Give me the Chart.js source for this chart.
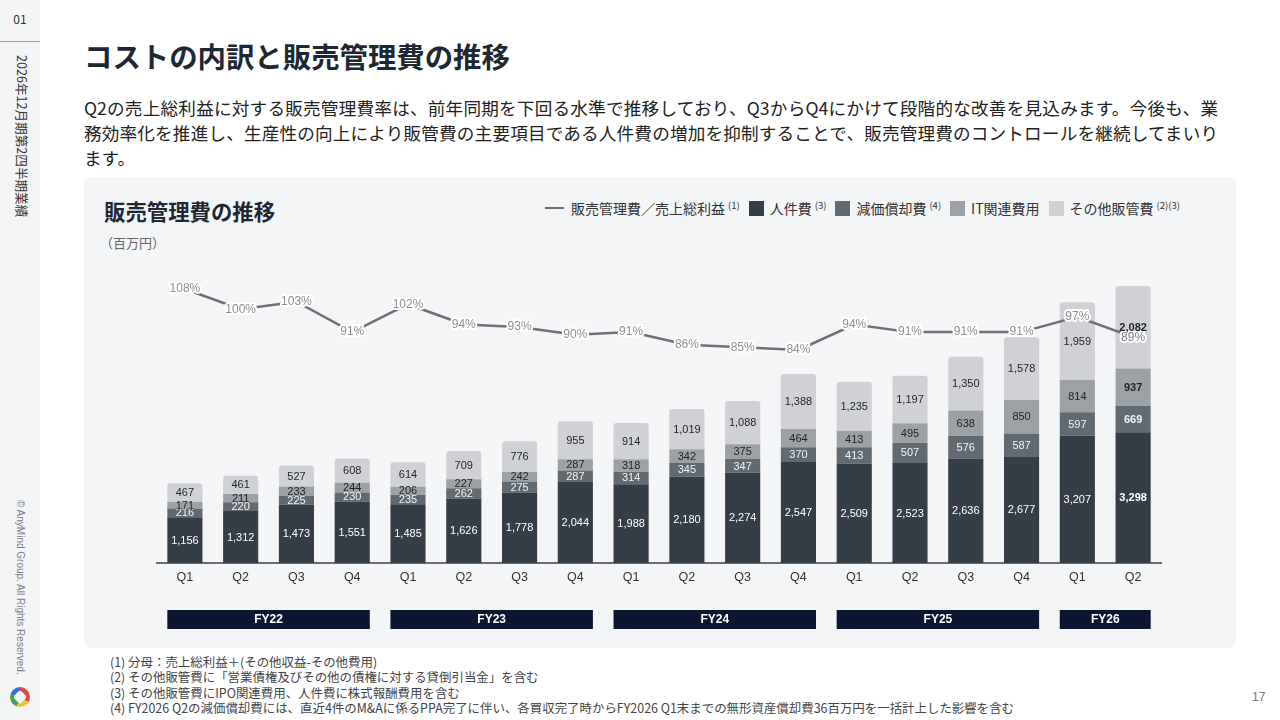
<!DOCTYPE html>
<html lang="ja">
<head>
<meta charset="utf-8">
<script src="https://cdn.jsdelivr.net/npm/chart.js@4.4.1/dist/chart.umd.min.js"></script>
<style>
  body { margin: 0; width: 1280px; height: 720px; overflow: hidden; background: #fff; position: relative;
         font-family: "Noto Sans CJK JP", "Noto Sans", sans-serif; color: #222; }
  #side { position: absolute; left: 0; top: 0; width: 40px; height: 720px; background: #f3f4f6; }
  #side .num { position: absolute; top: 10px; width: 40px; text-align: center; font-size: 12px; color: #333; }
  #side .rule { position: absolute; top: 41px; left: 0; width: 40px; border-top: 1px solid #9a9ea3; }
  #side .vt { position: absolute; writing-mode: vertical-rl; text-orientation: sideways; white-space: nowrap; }
  #side .period { top: 55px; left: 13px; font-size: 12.6px; color: #333; }
  #side .copy { top: 500px; font-family: "Liberation Sans", Arial, sans-serif; font-size: 10px; color: #7a7d82; left: 15px; }
  #logo { position: absolute; left: 10px; top: 687px; width: 20px; height: 20px; border-radius: 50%;
          background: conic-gradient(#e04a3f 0 120deg, #f2c230 120deg 200deg, #34a853 200deg 290deg, #3b6fd6 290deg 360deg); }
  #logo::after { content: ""; position: absolute; left: 5px; top: 5px; width: 10px; height: 10px; background: #f3f4f6;
                 transform: rotate(45deg); border-radius: 2px; }
  h1 { position: absolute; left: 84px; top: 36px; margin: 0; font-size: 28.4px; line-height: 40px; font-weight: 700; color: #1e2833; }
  #lead { position: absolute; left: 84px; top: 95px; width: 1134px; font-size: 17.6px; line-height: 25px; color: #222; }
  #lead div { white-space: nowrap; text-align: justify; text-align-last: justify; }
  #lead div.last { text-align-last: left; }
  #panel { position: absolute; left: 84px; top: 177px; width: 1152px; height: 471px; background: #f3f5f7; border-radius: 6px; }
  #ptitle { position: absolute; left: 104px; top: 196px; font-size: 21.4px; line-height: 30px; font-weight: 700; color: #1e2833; }
  #unit { position: absolute; left: 100px; top: 234px; font-size: 13px; line-height: 18px; color: #666; }
  #legend { position: absolute; right: 100px; top: 198px; height: 20px; display: flex; align-items: center;
            font-size: 14px; color: #333; white-space: nowrap; }
  #legend .it { display: flex; align-items: center; margin-left: 9px; }
  #legend .sw { width: 15px; height: 15px; margin-right: 6px; }
  #legend .ln { width: 19px; border-top: 2px solid #6d7075; margin-right: 7px; }
  #legend sup { font-size: 9.5px; margin-left: 3px; position: relative; top: -3px; vertical-align: top; line-height: 12px; }
  #wrap { position: absolute; left: 140px; top: 268px; width: 1040px; height: 372px; }
  #notes { position: absolute; left: 110px; top: 655px; font-size: 12.45px; line-height: 15.3px; color: #444; }
  #page { position: absolute; left: 1252px; top: 690px; font-size: 12px; color: #777; font-family: "Liberation Sans", Arial, sans-serif; }
</style>
</head>
<body>
<div id="side">
  <div class="num">01</div>
  <div class="rule"></div>
  <div class="vt period">2026年12月期第2四半期業績</div>
  <div class="vt copy">© AnyMind Group. All Rights Reserved.</div>
  <div id="logo"></div>
</div>

<h1>コストの内訳と販売管理費の推移</h1>
<div id="lead">
  <div>Q2の売上総利益に対する販売管理費率は、前年同期を下回る水準で推移しており、Q3からQ4にかけて段階的な改善を見込みます。今後も、業</div>
  <div>務効率化を推進し、生産性の向上により販管費の主要項目である人件費の増加を抑制することで、販売管理費のコントロールを継続してまいり</div>
  <div class="last">ます。</div>
</div>

<div id="panel"></div>
<div id="ptitle">販売管理費の推移</div>
<div id="unit">（百万円）</div>
<div id="legend">
  <div class="it"><span class="ln"></span>販売管理費／売上総利益<sup>(1)</sup></div>
  <div class="it"><span class="sw" style="background:#353e47"></span>人件費<sup>(3)</sup></div>
  <div class="it"><span class="sw" style="background:#626a71"></span>減価償却費<sup>(4)</sup></div>
  <div class="it"><span class="sw" style="background:#9da1a6"></span>IT関連費用</div>
  <div class="it"><span class="sw" style="background:#cfd1d4"></span>その他販管費<sup>(2)(3)</sup></div>
</div>
<div id="wrap"><canvas id="myChart"></canvas></div>

<div id="notes">
  (1) 分母：売上総利益＋(その他収益-その他費用)<br>
  (2) その他販管費に「営業債権及びその他の債権に対する貸倒引当金」を含む<br>
  (3) その他販管費にIPO関連費用、人件費に株式報酬費用を含む<br>
  (4) FY2026 Q2の減価償却費には、直近4件のM&amp;Aに係るPPA完了に伴い、各買収完了時からFY2026 Q1末までの無形資産償却費36百万円を一括計上した影響を含む
</div>
<div id="page">17</div>

<script>
'use strict';

// data
var quarters = ['Q1', 'Q2', 'Q3', 'Q4', 'Q1', 'Q2', 'Q3', 'Q4', 'Q1', 'Q2', 'Q3', 'Q4', 'Q1', 'Q2', 'Q3', 'Q4', 'Q1', 'Q2'];
var fiscalYears = ['FY22', 'FY23', 'FY24', 'FY25', 'FY26'];
var fiscalQuarterCounts = [4, 4, 4, 4, 2];
var personnel = [1156, 1312, 1473, 1551, 1485, 1626, 1778, 2044, 1988, 2180, 2274, 2547, 2509, 2523, 2636, 2677, 3207, 3298];
var depreciation = [216, 220, 225, 230, 235, 262, 275, 287, 314, 345, 347, 370, 413, 507, 576, 587, 597, 669];
var itCosts = [171, 211, 233, 244, 206, 227, 242, 287, 318, 342, 375, 464, 413, 495, 638, 850, 814, 937];
var otherSga = [467, 461, 527, 608, 614, 709, 776, 955, 914, 1019, 1088, 1388, 1235, 1197, 1350, 1578, 1959, 2082];
var sgaRatio = [108, 100, 103, 91, 102, 94, 93, 90, 91, 86, 85, 84, 94, 91, 91, 91, 97, 89];

var lastIndex = quarters.length - 1;

function fmt(n) {
  return n.toLocaleString('en-US');
}

// value labels on the bars and on the line
var labelPlugin = {
  id: 'labels',
  afterDatasetsDraw: function (chart) {
    var ctx = chart.ctx;
    ctx.save();
    ctx.textAlign = 'center';
    ctx.textBaseline = 'middle';
    chart.data.datasets.forEach(function (ds, di) {
      var meta = chart.getDatasetMeta(di);
      if (ds.type === 'line') {
        ctx.font = '12px "Liberation Sans", Arial, sans-serif';
        ctx.lineJoin = 'round';
        meta.data.forEach(function (pt, i) {
          var txt = ds.data[i] + '%';
          ctx.strokeStyle = '#ffffff';
          ctx.lineWidth = 4;
          ctx.strokeText(txt, pt.x, pt.y);
          ctx.fillStyle = i === lastIndex ? '#7d8186' : '#8c9095';
          ctx.fillText(txt, pt.x, pt.y);
        });
      } else {
        meta.data.forEach(function (bar, i) {
          var bold = i === lastIndex ? 'bold ' : '';
          ctx.font = bold + '11px "Liberation Sans", Arial, sans-serif';
          ctx.fillStyle = ds.labelColor;
          ctx.fillText(fmt(ds.data[i]), bar.x, (bar.y + bar.base) / 2 + 0.5);
        });
      }
    });
    ctx.restore();
  }
};

// fiscal year bands under the quarter labels
var fyPlugin = {
  id: 'fyBands',
  afterDraw: function (chart) {
    var ctx = chart.ctx;
    var x = chart.scales.x;
    var half = chart.getDatasetMeta(1).data[0].width / 2;
    var top = chart.chartArea.bottom + 47;
    var start = 0;
    ctx.save();
    for (var f = 0; f < fiscalYears.length; f++) {
      var end = start + fiscalQuarterCounts[f] - 1;
      var left = x.getPixelForValue(start) - half;
      var right = x.getPixelForValue(end) + half;
      ctx.fillStyle = '#0c1631';
      ctx.fillRect(left, top, right - left, 19);
      ctx.fillStyle = '#ffffff';
      ctx.font = 'bold 12px "Liberation Sans", Arial, sans-serif';
      ctx.textAlign = 'center';
      ctx.textBaseline = 'middle';
      ctx.fillText(fiscalYears[f], (left + right) / 2, top + 10);
      start = end + 1;
    }
    ctx.restore();
  }
};

var barMax = 7000;

var ctx = document.getElementById('myChart').getContext('2d');
var chart = new Chart(ctx, {
  data: {
    labels: quarters,
    datasets: [
      {
        type: 'line',
        label: '販売管理費／売上総利益',
        data: sgaRatio,
        yAxisID: 'y1',
        borderColor: '#6d7075',
        borderWidth: 2.5,
        pointRadius: 0,
        tension: 0,
        order: 0
      },
      { type: 'bar', label: '人件費', data: personnel, backgroundColor: '#353e47', labelColor: '#ffffff', order: 1 },
      { type: 'bar', label: '減価償却費', data: depreciation, backgroundColor: '#626a71', labelColor: '#f2f3f4', order: 1 },
      { type: 'bar', label: 'IT関連費用', data: itCosts, backgroundColor: '#9da1a6', labelColor: '#1f2328', order: 1 },
      { type: 'bar', label: 'その他販管費', data: otherSga, backgroundColor: '#cfd1d4', labelColor: '#1f2328', borderRadius: 3, order: 1 }
    ]
  },
  options: {
    responsive: true,
    maintainAspectRatio: false,
    animation: false,
    datasets: { bar: { barPercentage: 0.63, categoryPercentage: 1 } },
    layout: { padding: { left: 17, right: 19, top: 17.5, bottom: 48 } },
    plugins: { legend: { display: false }, tooltip: { enabled: false } },
    scales: {
      x: {
        stacked: true,
        grid: { display: false, drawTicks: false },
        border: { display: true, color: '#6a6e73', width: 2 },
        ticks: { color: '#333', padding: 7, font: { family: '"Liberation Sans", Arial, sans-serif', size: 12.5 } }
      },
      y: { stacked: true, display: false, min: 0, max: barMax },
      y1: { display: false, min: 0, max: barMax / 64 }
    }
  },
  plugins: [labelPlugin, fyPlugin]
});
</script>
</body>
</html>
